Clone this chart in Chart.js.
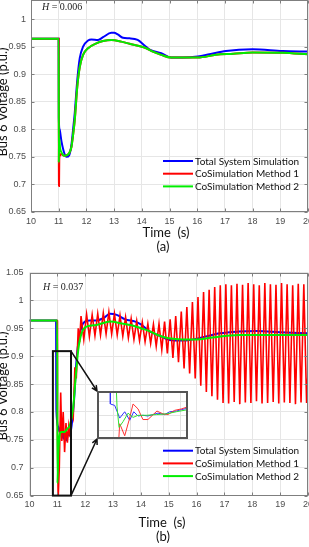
<!DOCTYPE html>
<html>
<head>
<meta charset="utf-8">
<script src="https://cdn.jsdelivr.net/npm/chart.js@4.4.0/dist/chart.umd.min.js"></script>
<style>
  html, body { margin: 0; padding: 0; background: #fff; overflow: hidden; width: 309px; height: 547px; }
  canvas { position: absolute; display: block; }
</style>
</head>
<body>
<canvas id="chartA" width="330" height="260" style="left:0;top:0"></canvas>
<canvas id="chartB" width="330" height="285" style="left:0;top:262px"></canvas>
<canvas id="chartIn" width="91" height="48" style="left:97px;top:391px;background:#fff"></canvas>
<script>
// ---- datos ----
const xTicks = [10, 11, 12, 13, 14, 15, 16, 17, 18, 19, 20];
const yTicksA = [0.65, 0.7, 0.75, 0.8, 0.85, 0.9, 0.95, 1];
const yTicksB = [0.65, 0.7, 0.75, 0.8, 0.85, 0.9, 0.95, 1, 1.05];
const seriesNames = ['Total System Simulation', 'CoSimulation Method 1', 'CoSimulation Method 2'];
const panelNames = ['(a)', '(b)'];
const inertia = ['0.006', '0.037'];

// (a) H = 0.006   [tiempo s, tension p.u.]
const blueA = [[10,0.964],[10.999,0.964],[11.005,0.82],[11.03,0.80],[11.1,0.778],[11.2,0.757],[11.28,0.750],[11.38,0.753],[11.46,0.772],[11.52,0.80],[11.58,0.83],[11.67,0.889],[11.76,0.929],[11.88,0.95],[12.06,0.961],[12.18,0.963],[12.42,0.962],[12.6,0.967],[12.9,0.975],[13.0,0.975],[13.13,0.972],[13.32,0.966],[13.56,0.965],[13.85,0.962],[14.1,0.952],[14.3,0.944],[14.7,0.938],[15.06,0.930],[15.48,0.930],[16.02,0.932],[16.44,0.936],[17.04,0.942],[18.0,0.945],[19.08,0.942],[20,0.941]];
const redA = [[10,0.964],[11.0,0.964],[11.006,0.73],[11.012,0.697],[11.02,0.745],[11.04,0.752],[11.08,0.755],[11.2,0.752],[11.3,0.753],[11.38,0.757],[11.46,0.768],[11.52,0.79],[11.58,0.817],[11.67,0.877],[11.76,0.913],[11.88,0.935],[12.06,0.947],[12.36,0.956],[12.6,0.960],[12.9,0.962],[13.26,0.959],[13.56,0.955],[13.9,0.951],[14.16,0.947],[14.4,0.941],[14.7,0.935],[15.06,0.930],[15.48,0.930],[16.02,0.930],[16.68,0.935],[17.3,0.937],[18.0,0.9395],[19.08,0.939],[20,0.936]];
const greenA = [[10,0.964],[11.0,0.964],[11.004,0.74],[11.015,0.785],[11.05,0.766],[11.1,0.758],[11.2,0.752],[11.3,0.753],[11.38,0.757],[11.46,0.768],[11.52,0.79],[11.58,0.817],[11.67,0.877],[11.76,0.913],[11.88,0.935],[12.06,0.947],[12.36,0.956],[12.6,0.960],[12.9,0.962],[13.26,0.959],[13.56,0.955],[13.9,0.951],[14.16,0.947],[14.4,0.941],[14.7,0.935],[15.06,0.930],[15.48,0.930],[16.02,0.930],[16.68,0.935],[17.3,0.937],[18.0,0.9395],[19.08,0.939],[20,0.936]];

// (b) H = 0.037
const blueB = [[10,0.964],[10.955,0.964],[10.96,0.85],[10.965,0.805],[11.03,0.773],[11.08,0.764],[11.14,0.776],[11.21,0.752],[11.27,0.764],[11.33,0.749],[11.39,0.761],[11.45,0.758],[11.52,0.779],[11.6,0.821],[11.67,0.881],[11.75,0.923],[11.87,0.953],[11.99,0.962],[12.17,0.964],[12.41,0.964],[12.65,0.968],[12.89,0.976],[13.13,0.974],[13.43,0.966],[13.8,0.962],[14.0,0.957],[14.33,0.944],[14.7,0.936],[15.04,0.929],[15.4,0.928],[15.76,0.929],[16.3,0.935],[16.84,0.941],[17.5,0.944],[18.16,0.945],[19.0,0.943],[20,0.941]];
const redB = [[10,0.964],[10.998,0.964],[11.005,0.75],[11.03,0.645],[11.07,0.70],[11.12,0.835],[11.16,0.748],[11.21,0.80],[11.26,0.728],[11.31,0.78],[11.36,0.745],[11.41,0.775],[11.46,0.755],[11.52,0.80],[11.57,0.79],[11.63,0.88],[11.68,0.86],[11.75,0.95],[11.8,0.925],
  [11.85,0.972],[11.95,0.930],[12.05,0.975],[12.15,0.935],[12.25,0.974],[12.35,0.937],[12.45,0.976],[12.55,0.938],[12.65,0.977],[12.75,0.940],[12.85,0.979],[12.95,0.940],
  [13.05,0.976],[13.15,0.938],[13.25,0.973],[13.35,0.936],[13.45,0.970],[13.55,0.933],[13.65,0.967],[13.75,0.930],[13.85,0.963],[13.95,0.928],
  [14.05,0.961],[14.15,0.926],[14.25,0.958],[14.35,0.923],[14.45,0.957],[14.55,0.918],[14.65,0.958],[14.75,0.912],[14.85,0.962],[14.95,0.905],
  [15.05,0.966],[15.15,0.897],[15.25,0.972],[15.35,0.889],[15.45,0.980],[15.55,0.878],[15.65,0.988],[15.75,0.869],[15.85,0.997],[15.95,0.860],
  [16.05,1.006],[16.15,0.847],[16.25,1.015],[16.35,0.836],[16.45,1.019],[16.55,0.828],[16.65,1.024],[16.75,0.822],[16.85,1.027],[16.95,0.816],
  [17.05,1.029],[17.15,0.815],[17.25,1.027],[17.35,0.818],[17.45,1.030],[17.55,0.814],[17.65,1.028],[17.75,0.817],[17.85,1.031],[17.95,0.816],
  [18.05,1.029],[18.15,0.819],[18.25,1.027],[18.35,0.815],[18.45,1.031],[18.55,0.816],[18.65,1.029],[18.75,0.818],[18.85,1.028],[18.95,0.815],
  [19.05,1.031],[19.15,0.817],[19.25,1.029],[19.35,0.816],[19.45,1.027],[19.55,0.814],[19.65,1.030],[19.75,0.817],[19.85,1.029],[19.95,0.816],[20,0.87]];
const greenB = [[10,0.964],[10.998,0.964],[11.003,0.672],[11.03,0.72],[11.06,0.749],[11.09,0.761],[11.14,0.764],[11.25,0.764],[11.36,0.770],[11.45,0.776],[11.57,0.809],[11.67,0.869],[11.75,0.911],[11.87,0.941],[12.05,0.953],[12.41,0.956],[12.89,0.962],[13.37,0.958],[13.7,0.955],[14.0,0.950],[14.3,0.945],[14.6,0.938],[15.0,0.932],[15.5,0.930],[16.0,0.930],[16.5,0.933],[17.0,0.936],[17.56,0.938],[18.5,0.938],[19.3,0.938],[20,0.938]];

// zona ampliada en (b): [t0, t1, v0, v1]
const zoomBox = [10.84, 11.49, 0.65, 0.909];
// recuadro ampliado
const insetX = [11.0, 11.545];
const insetY = [0.7074, 0.7754];
const insetXTicks = [11.1, 11.2, 11.3, 11.4, 11.5];
const insetYTicks = [0.72, 0.74, 0.76];
const blueIn = [[11.080,0.80],[11.080,0.757],[11.106,0.755],[11.136,0.737],[11.166,0.746],[11.196,0.734],[11.220,0.746],[11.246,0.740],[11.275,0.741],[11.305,0.740],[11.335,0.742],[11.365,0.744],[11.405,0.742],[11.435,0.746],[11.475,0.747],[11.505,0.749],[11.545,0.751]];
const redIn = [[11.130,0.705],[11.136,0.729],[11.166,0.712],[11.192,0.734],[11.216,0.757],[11.246,0.750],[11.275,0.735],[11.305,0.735],[11.359,0.747],[11.395,0.743],[11.425,0.742],[11.465,0.748],[11.505,0.750],[11.545,0.753]];
const greenIn = [[11.112,0.80],[11.120,0.753],[11.132,0.724],[11.156,0.732],[11.186,0.744],[11.216,0.738],[11.246,0.741],[11.296,0.741],[11.356,0.742],[11.416,0.743],[11.475,0.746],[11.545,0.749]];

// ---- estilos ----
const seriesColors = ['#0000ff', '#ff0000', '#00ee00'];
const tickFont = { family: '"Liberation Sans", Arial, sans-serif', size: 9 };
const textFamily = 'Lato, "Open Sans", sans-serif';

function datasets(blue, red, green, redWidth, redCurve) {
    return [
        { label: seriesNames[0], data: blue, borderColor: seriesColors[0], borderWidth: 2, order: 3, cubicInterpolationMode: 'monotone' },
        { label: seriesNames[1], data: red, borderColor: seriesColors[1], borderWidth: redWidth, order: 2, cubicInterpolationMode: redCurve ? 'monotone' : 'default', tension: 0 },
        { label: seriesNames[2], data: green, borderColor: seriesColors[2], borderWidth: 2, order: 1, cubicInterpolationMode: 'monotone' }
    ];
}

function axes(yTicks, yMax, yWidth, yPad, xHeight) {
    return {
        x: {
            type: 'linear', min: 10, max: 20,
            afterBuildTicks: s => { s.ticks = xTicks.map(v => ({ value: v })); },
            afterFit: s => { s.height = xHeight; s.paddingLeft = 0; s.paddingRight = 0; },
            grid: { color: '#e6e6e6', drawTicks: false },
            border: { display: false },
            ticks: { padding: 4, color: '#4d4d4d', font: tickFont, maxRotation: 0, autoSkip: false, callback: v => String(v) }
        },
        y: {
            type: 'linear', min: 0.65, max: yMax,
            afterBuildTicks: s => { s.ticks = yTicks.map(v => ({ value: v })); },
            afterFit: s => { s.width = yWidth; s.paddingTop = 0; s.paddingBottom = 0; },
            grid: { color: '#e6e6e6', drawTicks: false },
            border: { display: false },
            ticks: { padding: yPad, color: '#4d4d4d', font: tickFont, autoSkip: false, callback: v => String(+v.toFixed(2)) }
        }
    };
}

// marco, marcas, leyenda y textos (estilo MATLAB)
function decorations(cfg) {
    return {
        id: 'decor',
        afterDraw(chart) {
            const { ctx, chartArea: a } = chart;
            const x = chart.scales.x, y = chart.scales.y;
            ctx.save();
            ctx.strokeStyle = '#7f7f7f';
            ctx.lineWidth = 1;
            const L = Math.round(a.left) + 0.5, R = Math.round(a.right) - 0.5;
            const T = Math.round(a.top) + 0.5, B = Math.round(a.bottom) - 0.5;
            ctx.strokeRect(L, T, R - L, B - T);
            ctx.beginPath();
            x.ticks.forEach(t => {
                const p = Math.round(x.getPixelForValue(t.value)) + 0.5;
                ctx.moveTo(p, B); ctx.lineTo(p, B - 3);
                ctx.moveTo(p, T); ctx.lineTo(p, T + 3);
            });
            y.ticks.forEach(t => {
                const p = Math.round(y.getPixelForValue(t.value)) + 0.5;
                ctx.moveTo(L, p); ctx.lineTo(L + 3, p);
                ctx.moveTo(R, p); ctx.lineTo(R - 3, p);
            });
            ctx.stroke();

            // recuadro de zoom y flechas hacia el inset
            if (cfg.zoom) {
                const x0 = x.getPixelForValue(cfg.zoom[0]), x1 = x.getPixelForValue(cfg.zoom[1]);
                const y0 = y.getPixelForValue(cfg.zoom[2]), y1 = y.getPixelForValue(cfg.zoom[3]);
                ctx.strokeStyle = '#111';
                ctx.lineWidth = 2;
                ctx.strokeRect(x0, y1, x1 - x0, y0 - y1);
                ctx.lineWidth = 1.5;
                arrow(ctx, x1, y1, cfg.target[0], cfg.target[1]);
                arrow(ctx, x1, y0, cfg.target[0], cfg.target[2]);
            }

            // leyenda
            ctx.font = '10px ' + textFamily;
            ctx.textBaseline = 'middle';
            ctx.textAlign = 'left';
            chart.data.datasets.forEach((ds, i) => {
                const ly = cfg.legendY + i * 12.7;
                ctx.strokeStyle = ds.borderColor;
                ctx.lineWidth = 2;
                ctx.beginPath(); ctx.moveTo(163, ly); ctx.lineTo(193, ly); ctx.stroke();
                ctx.fillStyle = '#111';
                ctx.fillText(ds.label, 195, ly + 0.5);
            });

            // H = ...
            ctx.fillStyle = '#222';
            ctx.font = 'italic 10px "Liberation Serif", serif';
            ctx.fillText('H', cfg.hPos[0], cfg.hPos[1]);
            const hw = ctx.measureText('H').width;
            ctx.font = '10px "Liberation Serif", serif';
            ctx.fillText(' = ' + cfg.h, cfg.hPos[0] + hw, cfg.hPos[1]);

            // titulos de ejes
            ctx.fillStyle = '#111';
            ctx.textAlign = 'center';
            ctx.font = '13px ' + textFamily;
            ctx.fillText('Time  (s)', cfg.timePos[0], cfg.timePos[1]);
            ctx.fillText(cfg.panel, 163, cfg.timePos[1] + 14);
            ctx.save();
            ctx.translate(2.5, cfg.yTitle);
            ctx.rotate(-Math.PI / 2);
            ctx.font = '13px ' + textFamily;
            ctx.fillText('Bus 6 Voltage (p.u.)', 0, 0);
            ctx.restore();
            ctx.restore();
        }
    };
}

function arrow(ctx, x0, y0, x1, y1) {
    const ang = Math.atan2(y1 - y0, x1 - x0);
    ctx.beginPath();
    ctx.moveTo(x0, y0); ctx.lineTo(x1, y1);
    ctx.moveTo(x1 - 6 * Math.cos(ang - 0.45), y1 - 6 * Math.sin(ang - 0.45));
    ctx.lineTo(x1, y1);
    ctx.lineTo(x1 - 6 * Math.cos(ang + 0.45), y1 - 6 * Math.sin(ang + 0.45));
    ctx.stroke();
}

const common = {
    responsive: false,
    animation: false,
    events: [],
    elements: { point: { radius: 0 }, line: { borderCapStyle: 'butt' } },
    plugins: { legend: { display: false }, tooltip: { enabled: false } }
};

// Grafica (a)
new Chart(document.getElementById('chartA'), {
    type: 'line',
    data: { datasets: datasets(blueA, redA, greenA, 2, true) },
    options: Object.assign({}, common, {
        layout: { padding: { left: 0, right: 22, top: 0, bottom: 0 } },
        scales: axes(yTicksA, 1.0345, 31, 5, 48)
    }),
    plugins: [decorations({ legendY: 161, h: inertia[0], hPos: [42, 7], timePos: [166, 233], panel: panelNames[0], yTitle: 102 })]
});

// Grafica (b)
new Chart(document.getElementById('chartB'), {
    type: 'line',
    data: { datasets: datasets(blueB, redB, greenB, 1.6, false) },
    options: Object.assign({}, common, {
        layout: { padding: { left: 0, right: 22, top: 10.5, bottom: 0 } },
        scales: axes(yTicksB, 1.05, 29.5, 6, 51.4)
    }),
    plugins: [decorations({ legendY: 188.7, h: inertia[1], hPos: [43, 25.3], timePos: [162, 261], panel: panelNames[1], yTitle: 124,
        zoom: zoomBox, target: [97, 129, 177] })]
});

// Recuadro ampliado
const insetFrame = {
    id: 'insetFrame',
    afterDraw(chart) {
        const ctx = chart.ctx;
        ctx.save();
        ctx.strokeStyle = '#555';
        ctx.lineWidth = 2;
        ctx.strokeRect(1, 1, chart.width - 2, chart.height - 2);
        ctx.restore();
    }
};
function insetAxis(range, ticks, horizontal) {
    return {
        type: 'linear', min: range[0], max: range[1],
        afterBuildTicks: s => { s.ticks = ticks.map(v => ({ value: v })); },
        afterFit: s => { if (horizontal) s.height = 0; else s.width = 0; s.paddingLeft = s.paddingRight = s.paddingTop = s.paddingBottom = 0; },
        grid: { color: '#e2e2e2', drawTicks: false },
        border: { display: false },
        ticks: { display: false }
    };
}
new Chart(document.getElementById('chartIn'), {
    type: 'line',
    data: { datasets: [
        { data: blueIn, borderColor: '#3030ff', borderWidth: 1, order: 3 },
        { data: redIn, borderColor: '#ff3030', borderWidth: 1, order: 2 },
        { data: greenIn, borderColor: '#30e030', borderWidth: 1, order: 1 }
    ] },
    options: Object.assign({}, common, {
        layout: { padding: 0 },
        scales: { x: insetAxis(insetX, insetXTicks, true), y: insetAxis(insetY, insetYTicks, false) }
    }),
    plugins: [insetFrame]
});
</script>
</body>
</html>
